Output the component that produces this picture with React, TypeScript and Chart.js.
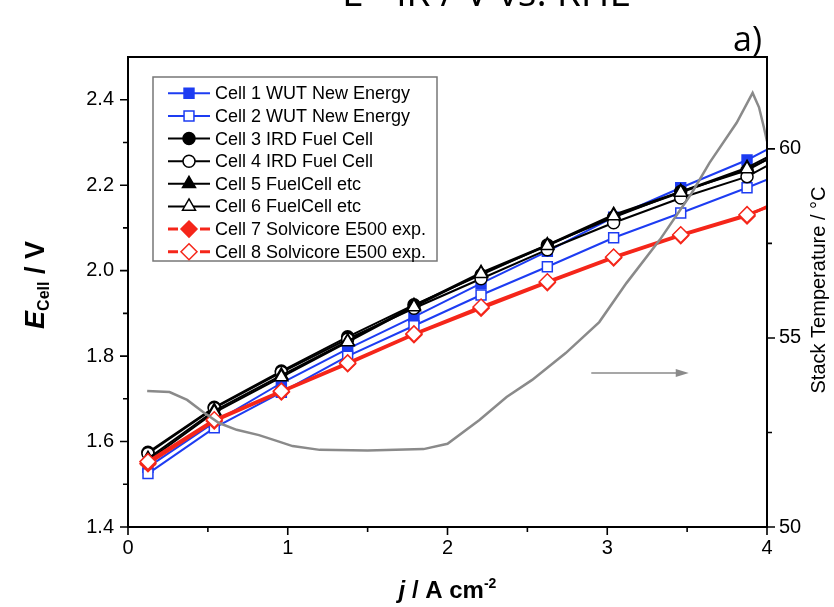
import React, { useEffect, useRef } from 'react';
import { Chart, registerables } from 'chart.js';

Chart.register(...registerables);

const FONT = '"Liberation Sans", Arial, sans-serif';

// current density (A cm^-2) at the measured points
const cellJ = [0.125, 0.54, 0.96, 1.375, 1.79, 2.21, 2.625, 3.04, 3.46, 3.875, 4.0];
// cell voltages (V)
const cell1 = [1.540, 1.645, 1.737, 1.817, 1.892, 1.970, 2.045, 2.125, 2.194, 2.259, 2.283];
const cell2 = [1.525, 1.632, 1.715, 1.800, 1.871, 1.943, 2.009, 2.077, 2.135, 2.194, 2.213];
const cell3 = [1.575, 1.680, 1.765, 1.845, 1.920, 1.990, 2.060, 2.125, 2.185, 2.235, 2.260];
const cell4 = [1.572, 1.678, 1.762, 1.840, 1.912, 1.981, 2.049, 2.112, 2.170, 2.220, 2.245];
const cell5 = [1.560, 1.672, 1.755, 1.835, 1.918, 1.995, 2.060, 2.131, 2.185, 2.241, 2.265];
const cell6 = [1.555, 1.668, 1.751, 1.833, 1.915, 1.993, 2.058, 2.128, 2.183, 2.238, 2.260];
const cell7 = [1.548, 1.648, 1.716, 1.782, 1.850, 1.912, 1.972, 2.030, 2.082, 2.128, 2.150];
const cell8 = [1.553, 1.651, 1.718, 1.784, 1.852, 1.915, 1.974, 2.032, 2.084, 2.131, 2.148];

const cellNames = [
  'Cell 1 WUT New Energy',
  'Cell 2 WUT New Energy',
  'Cell 3 IRD Fuel Cell',
  'Cell 4 IRD Fuel Cell',
  'Cell 5 FuelCell etc',
  'Cell 6 FuelCell etc',
  'Cell 7 Solvicore E500 exp.',
  'Cell 8 Solvicore E500 exp.',
];
const cellValues = [cell1, cell2, cell3, cell4, cell5, cell6, cell7, cell8];

// stack temperature (°C)
const tempJ = [0.12, 0.26, 0.37, 0.47, 0.57, 0.68, 0.82, 0.95, 1.03, 1.2, 1.5, 1.85, 2.0, 2.2, 2.37, 2.53, 2.74, 2.95, 3.12, 3.33, 3.53, 3.64, 3.81, 3.91, 3.95, 3.98, 4.0];
const tempT = [53.6, 53.57, 53.36, 53.04, 52.75, 52.57, 52.43, 52.25, 52.14, 52.04, 52.02, 52.06, 52.2, 52.83, 53.44, 53.89, 54.6, 55.42, 56.45, 57.6, 58.84, 59.63, 60.69, 61.48, 61.1, 60.58, 60.2];

// arrow pointing to the temperature axis
const arrowJ = [2.9, 3.51];
const arrowT = [54.07, 54.07];

const xTickValues = [0, 1, 2, 3, 4];
const yTickValues = [1.4, 1.6, 1.8, 2.0, 2.2, 2.4];
const y2TickValues = [50, 55, 60];

const BLUE = '#1d3cf2';
const BLACK = '#000000';
const RED = '#f5261a';
const GRAY = '#8a8a8a';

const styles = [
  { color: BLUE, point: 'rect', filled: true, r: 7, lw: 2 },
  { color: BLUE, point: 'rect', filled: false, r: 7, lw: 2 },
  { color: BLACK, point: 'circle', filled: true, r: 6, lw: 2 },
  { color: BLACK, point: 'circle', filled: false, r: 6, lw: 2 },
  { color: BLACK, point: 'triangle', filled: true, r: 7.5, lw: 2 },
  { color: BLACK, point: 'triangle', filled: false, r: 7.5, lw: 2 },
  { color: RED, point: 'rectRot', filled: true, r: 8, lw: 3 },
  { color: RED, point: 'rectRot', filled: false, r: 8, lw: 3 },
];

function drawMarker(ctx: CanvasRenderingContext2D, style: string, x: number, y: number, r: number, fill: string, stroke: string, lw: number) {
  ctx.beginPath();
  if (style === 'rect') {
    const s = r * Math.SQRT1_2;
    ctx.rect(x - s, y - s, 2 * s, 2 * s);
  } else if (style === 'circle') {
    ctx.arc(x, y, r, 0, Math.PI * 2);
  } else if (style === 'triangle') {
    for (let k = 0; k < 3; k++) {
      const a = (k * 2 * Math.PI) / 3;
      const px = x + Math.sin(a) * r;
      const py = y - Math.cos(a) * r;
      if (k === 0) ctx.moveTo(px, py);
      else ctx.lineTo(px, py);
    }
    ctx.closePath();
  } else {
    ctx.moveTo(x, y - r);
    ctx.lineTo(x + r, y);
    ctx.lineTo(x, y + r);
    ctx.lineTo(x - r, y);
    ctx.closePath();
  }
  ctx.fillStyle = fill;
  ctx.fill();
  ctx.lineWidth = lw;
  ctx.strokeStyle = stroke;
  ctx.stroke();
}

function drawParts(ctx: CanvasRenderingContext2D, parts: { t: string; f: string; dy: number }[], cx: number, baseline: number) {
  let total = 0;
  for (const p of parts) {
    ctx.font = p.f;
    total += ctx.measureText(p.t).width;
  }
  let x = cx - total / 2;
  ctx.textAlign = 'left';
  ctx.textBaseline = 'alphabetic';
  for (const p of parts) {
    ctx.font = p.f;
    ctx.fillText(p.t, x, baseline + p.dy);
    x += ctx.measureText(p.t).width;
  }
}

const decorPlugin = {
  id: 'decor',
  afterDraw(chart: any) {
    const { ctx, chartArea: a, scales } = chart;
    const sx = scales.x;
    const sy = scales.y;
    const sy2 = scales.y2;
    ctx.save();

    // arrow
    const ax1 = sx.getPixelForValue(arrowJ[0]);
    const ax2 = sx.getPixelForValue(arrowJ[1]);
    const ay1 = sy2.getPixelForValue(arrowT[0]);
    const ay2 = sy2.getPixelForValue(arrowT[1]);
    ctx.strokeStyle = GRAY;
    ctx.fillStyle = GRAY;
    ctx.lineWidth = 1.5;
    ctx.beginPath();
    ctx.moveTo(ax1, ay1);
    ctx.lineTo(ax2 - 10, ay2);
    ctx.stroke();
    ctx.beginPath();
    ctx.moveTo(ax2, ay2);
    ctx.lineTo(ax2 - 13, ay2 - 4);
    ctx.lineTo(ax2 - 13, ay2 + 4);
    ctx.closePath();
    ctx.fill();

    // frame
    ctx.strokeStyle = '#000';
    ctx.lineWidth = 2;
    ctx.strokeRect(a.left, a.top, a.right - a.left, a.bottom - a.top);

    // ticks
    ctx.lineWidth = 1.6;
    ctx.beginPath();
    for (let k = 0; k <= 8; k++) {
      const px = sx.getPixelForValue(k * 0.5);
      const len = k % 2 === 0 ? 8 : 5;
      ctx.moveTo(px, a.bottom);
      ctx.lineTo(px, a.bottom + len);
    }
    for (let k = 0; k <= 10; k++) {
      const py = sy.getPixelForValue(1.4 + 0.1 * k);
      const len = k % 2 === 0 ? 8 : 5;
      ctx.moveTo(a.left, py);
      ctx.lineTo(a.left - len, py);
    }
    for (let k = 0; k <= 4; k++) {
      const py = sy2.getPixelForValue(50 + 2.5 * k);
      const len = k % 2 === 0 ? 8 : 5;
      ctx.moveTo(a.right, py);
      ctx.lineTo(a.right + len, py);
    }
    ctx.stroke();

    // axis titles
    ctx.fillStyle = '#000';
    ctx.save();
    ctx.translate(44, 285);
    ctx.rotate(-Math.PI / 2);
    drawParts(ctx, [
      { t: 'E', f: `italic bold 27px ${FONT}`, dy: 0 },
      { t: 'Cell', f: `bold 16px ${FONT}`, dy: 5 },
      { t: ' / V', f: `bold 27px ${FONT}`, dy: 0 },
    ], 0, 0);
    ctx.restore();

    drawParts(ctx, [
      { t: 'j', f: `italic bold 24px ${FONT}`, dy: 0 },
      { t: ' / A cm', f: `bold 24px ${FONT}`, dy: 0 },
      { t: '-2', f: `bold 14px ${FONT}`, dy: -10 },
    ], (a.left + a.right) / 2, 598);

    ctx.save();
    ctx.translate(825, 290);
    ctx.rotate(-Math.PI / 2);
    ctx.font = `20px ${FONT}`;
    ctx.textAlign = 'center';
    ctx.textBaseline = 'alphabetic';
    ctx.fillText('Stack Temperature / °C', 0, 0);
    ctx.restore();

    // legend
    const lx = 153, ly = 77, lw = 284, lh = 184;
    ctx.fillStyle = '#fff';
    ctx.fillRect(lx, ly, lw, lh);
    ctx.strokeStyle = '#777';
    ctx.lineWidth = 1.5;
    ctx.strokeRect(lx, ly, lw, lh);
    for (let i = 0; i < cellNames.length; i++) {
      const st = styles[i];
      const ry = 93.3 + i * 22.63;
      ctx.strokeStyle = st.color;
      ctx.lineWidth = st.lw;
      ctx.beginPath();
      if (st.point === 'rectRot') {
        ctx.moveTo(168, ry);
        ctx.lineTo(178, ry);
        ctx.moveTo(200, ry);
        ctx.lineTo(210, ry);
      } else {
        ctx.moveTo(168, ry);
        ctx.lineTo(210, ry);
      }
      ctx.stroke();
      drawMarker(ctx, st.point, 189, ry, st.r, st.filled ? st.color : '#fff', st.color, 1.5);
      ctx.fillStyle = '#000';
      ctx.font = `18px ${FONT}`;
      ctx.textAlign = 'left';
      ctx.textBaseline = 'middle';
      ctx.fillText(cellNames[i], 215, ry + 1);
    }

    ctx.restore();
  },
};

export default function App() {
  const ref = useRef<HTMLCanvasElement | null>(null);

  useEffect(() => {
    if (!ref.current) return;
    const datasets: any[] = cellValues.map((vals, i) => {
      const st = styles[i];
      return {
        label: cellNames[i],
        data: cellJ.map((j, k) => ({ x: j, y: vals[k] })),
        yAxisID: 'y',
        borderColor: st.color,
        borderWidth: st.lw,
        pointStyle: st.point,
        pointRadius: cellJ.map((_, k) => (k === cellJ.length - 1 ? 0 : st.r)),
        pointBackgroundColor: st.filled ? st.color : '#ffffff',
        pointBorderColor: st.color,
        pointBorderWidth: 1.5,
        tension: 0,
        order: 10 - i,
      };
    });
    datasets.push({
      label: 'Stack Temperature',
      data: tempJ.map((j, k) => ({ x: j, y: tempT[k] })),
      yAxisID: 'y2',
      borderColor: GRAY,
      borderWidth: 2.5,
      pointRadius: 0,
      tension: 0,
      order: 0,
    });

    const tickFont = { family: FONT, size: 20 };
    const chart = new Chart(ref.current, {
      type: 'line',
      data: { datasets },
      options: {
        animation: false,
        responsive: false,
        devicePixelRatio: 1,
        layout: { padding: { top: 57, left: 0, right: 0, bottom: 0 } },
        plugins: { legend: { display: false }, tooltip: { enabled: false }, title: { display: false } },
        scales: {
          x: {
            type: 'linear',
            min: 0,
            max: 4,
            grid: { display: false, drawTicks: false },
            border: { display: false },
            ticks: {
              color: '#000',
              padding: 9,
              maxRotation: 0,
              font: tickFont,
              callback: (v: any) => String(v),
            },
            afterBuildTicks: (s: any) => {
              s.ticks = xTickValues.map((v) => ({ value: v }));
            },
            afterFit: (s: any) => {
              s.height = 80;
            },
          },
          y: {
            type: 'linear',
            position: 'left',
            min: 1.4,
            max: 2.5,
            grid: { display: false, drawTicks: false },
            border: { display: false },
            ticks: {
              color: '#000',
              padding: 14,
              font: tickFont,
              callback: (v: any) => Number(v).toFixed(1),
            },
            afterBuildTicks: (s: any) => {
              s.ticks = yTickValues.map((v) => ({ value: v }));
            },
            afterFit: (s: any) => {
              s.width = 128;
            },
          },
          y2: {
            type: 'linear',
            position: 'right',
            min: 50,
            max: 62.43,
            grid: { display: false, drawTicks: false },
            border: { display: false },
            ticks: {
              color: '#000',
              padding: 12,
              font: tickFont,
              callback: (v: any) => String(v),
            },
            afterBuildTicks: (s: any) => {
              s.ticks = y2TickValues.map((v) => ({ value: v }));
            },
            afterFit: (s: any) => {
              s.width = 67;
            },
          },
        },
      },
      plugins: [decorPlugin],
    });
    return () => chart.destroy();
  }, []);

  return (
    <div style={{ position: 'fixed', left: 0, top: 0, width: 834, height: 607, background: '#fff', overflow: 'hidden' }}>
      <canvas ref={ref} width={834} height={607} style={{ display: 'block' }} />
      <div
        style={{
          position: 'absolute',
          left: 342,
          top: -28,
          fontFamily: '"Open Sans", sans-serif',
          fontSize: 39,
          lineHeight: '38px',
          whiteSpace: 'nowrap',
          color: '#000',
        }}
      >
        E - iR / V vs. RHE
      </div>
      <div
        style={{
          position: 'absolute',
          left: 733,
          top: 16,
          fontFamily: '"Open Sans", sans-serif',
          fontSize: 34,
          lineHeight: '44px',
          whiteSpace: 'nowrap',
          color: '#000',
        }}
      >
        a)
      </div>
    </div>
  );
}
